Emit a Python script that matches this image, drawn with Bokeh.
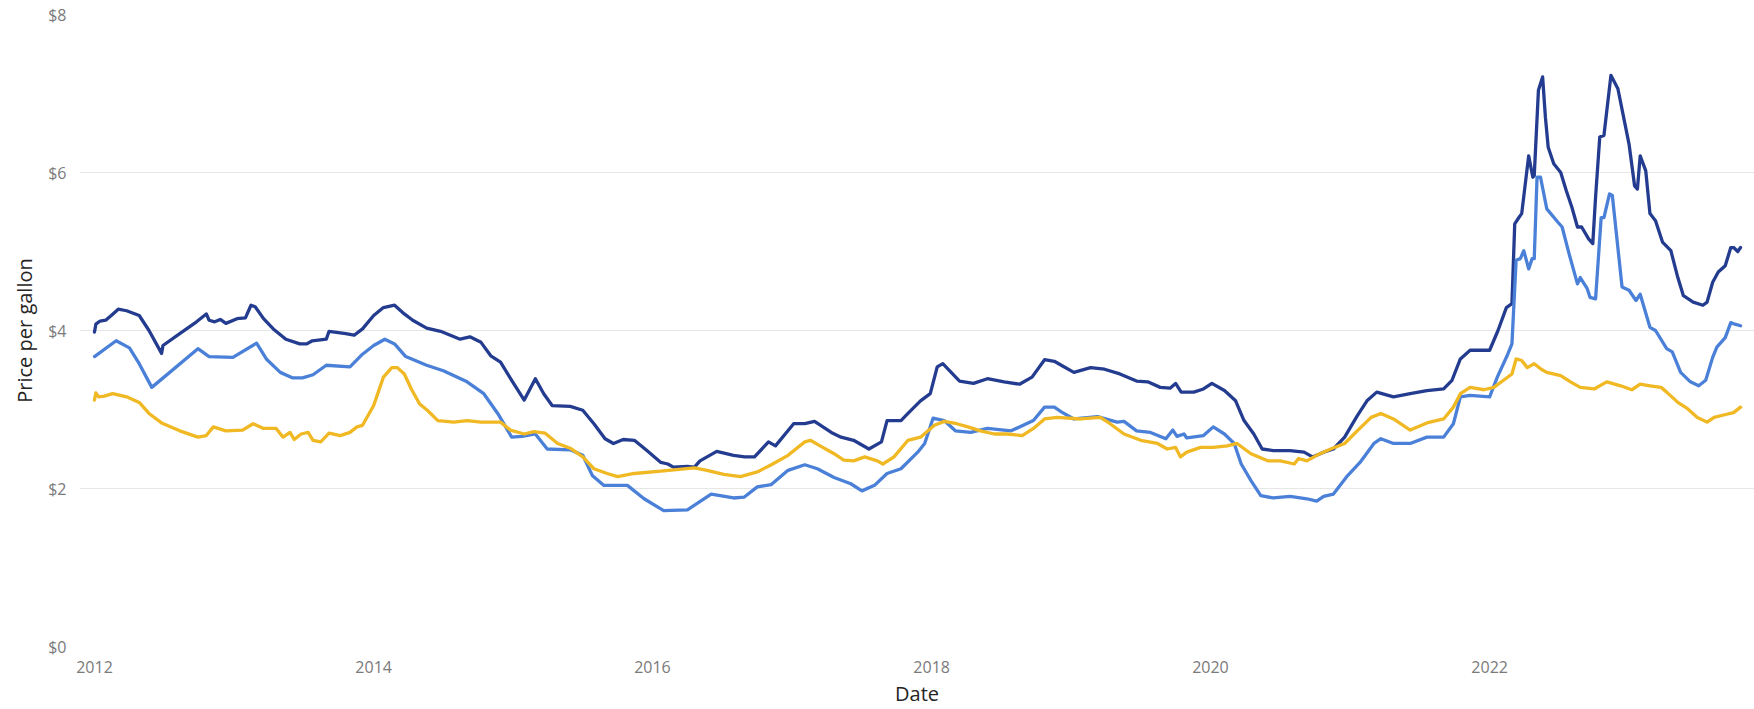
import pandas as pd
from bokeh.plotting import figure
from bokeh.models import Range1d, FixedTicker, NumeralTickFormatter, DatetimeTickFormatter, ColumnDataSource
from bokeh.embed import file_html
from bokeh.resources import INLINE

# ---- data (decimal years, $/gallon) ----
navy_t = [2012.00, 2012.01, 2012.04, 2012.08, 2012.12, 2012.17, 2012.23, 2012.32, 2012.39, 2012.48, 2012.49, 2012.61, 2012.73, 2012.80, 2012.82, 2012.86, 2012.90, 2012.94,
          2013.02, 2013.08, 2013.12, 2013.15, 2013.21, 2013.28, 2013.37, 2013.47, 2013.52, 2013.56, 2013.66, 2013.68, 2013.72, 2013.80, 2013.86, 2013.92,
          2014.00, 2014.07, 2014.15, 2014.22, 2014.28, 2014.38, 2014.48, 2014.62, 2014.69, 2014.77, 2014.84, 2014.91, 2014.99,
          2015.08, 2015.16, 2015.22, 2015.28, 2015.41, 2015.50, 2015.58, 2015.66, 2015.72, 2015.79, 2015.87, 2015.96,
          2016.06, 2016.11, 2016.15, 2016.25, 2016.30, 2016.34, 2016.46, 2016.58, 2016.66, 2016.73, 2016.83, 2016.88,
          2017.01, 2017.09, 2017.16, 2017.28, 2017.35, 2017.44, 2017.55, 2017.64, 2017.68, 2017.78, 2017.83, 2017.92, 2017.99,
          2018.04, 2018.08, 2018.14, 2018.20, 2018.30, 2018.40, 2018.52, 2018.63, 2018.72, 2018.81, 2018.88, 2018.93,
          2019.02, 2019.14, 2019.24, 2019.35, 2019.47, 2019.55, 2019.64, 2019.71, 2019.75, 2019.79, 2019.88, 2019.95,
          2020.01, 2020.10, 2020.18, 2020.24, 2020.31, 2020.37, 2020.45, 2020.57, 2020.67, 2020.73, 2020.81, 2020.88, 2020.96,
          2021.05, 2021.12, 2021.19, 2021.31, 2021.43, 2021.55, 2021.67, 2021.73, 2021.79, 2021.86, 2021.94,
          2022.00, 2022.06, 2022.12, 2022.16, 2022.18, 2022.21, 2022.23, 2022.28, 2022.31, 2022.32, 2022.35, 2022.38, 2022.40, 2022.42, 2022.46,
          2022.51, 2022.55, 2022.59, 2022.63, 2022.66, 2022.71, 2022.74, 2022.76, 2022.79, 2022.82, 2022.87, 2022.92,
          2023.00, 2023.04, 2023.06, 2023.08, 2023.12, 2023.15, 2023.19, 2023.24, 2023.30, 2023.35, 2023.39, 2023.46, 2023.53, 2023.56,
          2023.60, 2023.64, 2023.69, 2023.73, 2023.75, 2023.78, 2023.80]
navy_v = [3.98, 4.08, 4.12, 4.13, 4.19, 4.27, 4.25, 4.19, 4.00, 3.71, 3.81, 3.96, 4.11, 4.21, 4.13, 4.11, 4.14, 4.09,
          4.15, 4.16, 4.32, 4.30, 4.15, 4.02, 3.89, 3.83, 3.83, 3.87, 3.89, 3.99, 3.98, 3.96, 3.94, 4.02,
          4.19, 4.29, 4.32, 4.21, 4.13, 4.03, 3.99, 3.89, 3.92, 3.85, 3.68, 3.60, 3.37,
          3.12, 3.39, 3.20, 3.05, 3.04, 2.99, 2.82, 2.63, 2.57, 2.62, 2.61, 2.48,
          2.33, 2.31, 2.27, 2.28, 2.27, 2.35, 2.47, 2.42, 2.40, 2.40, 2.59, 2.54,
          2.82, 2.82, 2.85, 2.71, 2.65, 2.61, 2.50, 2.59, 2.86, 2.86, 2.95, 3.11, 3.20,
          3.54, 3.58, 3.47, 3.36, 3.33, 3.39, 3.35, 3.32, 3.41, 3.63, 3.61, 3.56,
          3.47, 3.53, 3.51, 3.45, 3.36, 3.35, 3.28, 3.27, 3.33, 3.22, 3.22, 3.26,
          3.33, 3.24, 3.11, 2.86, 2.69, 2.50, 2.48, 2.48, 2.46, 2.40, 2.46, 2.50, 2.65,
          2.92, 3.11, 3.22, 3.16, 3.20, 3.24, 3.26, 3.37, 3.64, 3.75, 3.75,
          3.75, 4.00, 4.29, 4.34, 5.35, 5.43, 5.48, 6.21, 5.94, 5.96, 7.04, 7.21, 6.70, 6.32, 6.11,
          6.00, 5.77, 5.56, 5.31, 5.31, 5.16, 5.10, 5.69, 6.45, 6.47, 7.23, 7.06,
          6.36, 5.83, 5.79, 6.21, 6.02, 5.48, 5.39, 5.12, 5.01, 4.67, 4.44, 4.36, 4.32, 4.36,
          4.61, 4.74, 4.82, 5.05, 5.05, 5.00, 5.05]

blue_t = [2012.00, 2012.155, 2012.25, 2012.32, 2012.41, 2012.74, 2012.82, 2012.99,
          2013.16, 2013.23, 2013.33, 2013.42, 2013.49, 2013.565, 2013.66, 2013.83, 2013.92,
          2014.00, 2014.08, 2014.15, 2014.23, 2014.38, 2014.50, 2014.67, 2014.79, 2014.89, 2014.99,
          2015.065, 2015.16, 2015.245, 2015.41, 2015.50, 2015.57, 2015.65, 2015.82, 2015.94,
          2016.08, 2016.25, 2016.42, 2016.58, 2016.655, 2016.75, 2016.85, 2016.97,
          2017.09, 2017.18, 2017.30, 2017.42, 2017.50, 2017.59, 2017.68, 2017.78, 2017.90, 2017.95,
          2018.01, 2018.09, 2018.17, 2018.28, 2018.40, 2018.57, 2018.73, 2018.81, 2018.88, 2018.93,
          2019.02, 2019.19, 2019.33, 2019.38, 2019.47, 2019.57, 2019.68, 2019.73, 2019.76, 2019.81, 2019.83, 2019.95,
          2020.02, 2020.10, 2020.17, 2020.22, 2020.29, 2020.36, 2020.45, 2020.57, 2020.69, 2020.76, 2020.81, 2020.88, 2020.98,
          2021.07, 2021.17, 2021.22, 2021.31, 2021.43, 2021.55, 2021.67, 2021.74, 2021.79, 2021.86,
          2022.00, 2022.055, 2022.13, 2022.16, 2022.19, 2022.22, 2022.245, 2022.28, 2022.305, 2022.32, 2022.34, 2022.365,
          2022.41, 2022.49, 2022.52, 2022.57, 2022.63, 2022.65, 2022.70, 2022.72, 2022.76, 2022.80, 2022.82, 2022.86, 2022.88, 2022.95,
          2023.00, 2023.05, 2023.08, 2023.15, 2023.19, 2023.27, 2023.31, 2023.37, 2023.44, 2023.50, 2023.55,
          2023.60, 2023.63, 2023.69, 2023.73, 2023.76, 2023.80]
blue_v = [3.67, 3.87, 3.78, 3.58, 3.28, 3.77, 3.67, 3.66,
          3.84, 3.64, 3.47, 3.40, 3.40, 3.44, 3.56, 3.54, 3.70,
          3.81, 3.89, 3.83, 3.67, 3.56, 3.49, 3.35, 3.20, 2.95, 2.65,
          2.66, 2.69, 2.50, 2.49, 2.42, 2.16, 2.04, 2.04, 1.87,
          1.72, 1.73, 1.93, 1.88, 1.89, 2.02, 2.05, 2.23,
          2.30, 2.25, 2.14, 2.06, 1.97, 2.04, 2.19, 2.25, 2.46, 2.57,
          2.89, 2.86, 2.73, 2.71, 2.76, 2.73, 2.86, 3.03, 3.03, 2.97,
          2.88, 2.91, 2.84, 2.85, 2.73, 2.71, 2.63, 2.74, 2.66, 2.69, 2.64, 2.67,
          2.78, 2.69, 2.57, 2.31, 2.10, 1.91, 1.88, 1.90, 1.87, 1.84, 1.90, 1.93, 2.16,
          2.33, 2.57, 2.63, 2.57, 2.57, 2.65, 2.65, 2.82, 3.16, 3.18,
          3.16, 3.41, 3.70, 3.83, 4.89, 4.91, 5.01, 4.78, 4.91, 4.91, 5.94, 5.94,
          5.54, 5.37, 5.31, 4.97, 4.59, 4.67, 4.53, 4.42, 4.40, 5.43, 5.43, 5.73, 5.71, 4.55,
          4.51, 4.38, 4.46, 4.04, 4.00, 3.77, 3.73, 3.47, 3.35, 3.30, 3.37,
          3.66, 3.79, 3.91, 4.10, 4.08, 4.06]

gold_t = [2012.00, 2012.01, 2012.03, 2012.07, 2012.13, 2012.23, 2012.32, 2012.39, 2012.48, 2012.61, 2012.74, 2012.80, 2012.85, 2012.94,
          2013.06, 2013.135, 2013.21, 2013.30, 2013.35, 2013.40, 2013.43, 2013.48, 2013.53, 2013.565, 2013.62, 2013.68, 2013.76, 2013.83, 2013.88, 2013.92,
          2014.00, 2014.07, 2014.13, 2014.17, 2014.22, 2014.27, 2014.33, 2014.385, 2014.46, 2014.575, 2014.67, 2014.77, 2014.91, 2014.98,
          2015.08, 2015.15, 2015.23, 2015.32, 2015.41, 2015.50, 2015.58, 2015.675, 2015.75, 2015.87,
          2016.06, 2016.30, 2016.39, 2016.51, 2016.63, 2016.75, 2016.85, 2016.97,
          2017.09, 2017.13, 2017.20, 2017.30, 2017.37, 2017.44, 2017.52, 2017.61, 2017.65, 2017.73, 2017.83, 2017.92,
          2018.02, 2018.09, 2018.18, 2018.26, 2018.35, 2018.45, 2018.54, 2018.65, 2018.73, 2018.81, 2018.90,
          2019.07, 2019.21, 2019.28, 2019.38, 2019.50, 2019.62, 2019.69, 2019.75, 2019.785, 2019.83, 2019.93,
          2020.02, 2020.12, 2020.19, 2020.29, 2020.41, 2020.50, 2020.60, 2020.63, 2020.69, 2020.76, 2020.86, 2020.96,
          2021.05, 2021.15, 2021.22, 2021.31, 2021.43, 2021.55, 2021.67, 2021.74, 2021.79, 2021.86, 2021.96,
          2022.03, 2022.10, 2022.16, 2022.19, 2022.23, 2022.27, 2022.32, 2022.37, 2022.41, 2022.51, 2022.58, 2022.65, 2022.75, 2022.84, 2022.94,
          2023.02, 2023.08, 2023.15, 2023.23, 2023.27, 2023.35, 2023.42, 2023.49, 2023.56, 2023.61, 2023.70, 2023.75, 2023.80]
gold_v = [3.12, 3.21, 3.16, 3.17, 3.20, 3.16, 3.09, 2.95, 2.83, 2.73, 2.65, 2.67, 2.78, 2.73,
          2.74, 2.82, 2.76, 2.76, 2.65, 2.71, 2.62, 2.69, 2.71, 2.61, 2.59, 2.70, 2.67, 2.71, 2.78, 2.80,
          3.05, 3.41, 3.53, 3.53, 3.45, 3.26, 3.07, 2.99, 2.86, 2.84, 2.86, 2.84, 2.84, 2.74,
          2.69, 2.72, 2.70, 2.57, 2.51, 2.40, 2.25, 2.19, 2.15, 2.19,
          2.22, 2.26, 2.23, 2.18, 2.15, 2.21, 2.30, 2.42,
          2.59, 2.61, 2.54, 2.44, 2.36, 2.35, 2.40, 2.35, 2.31, 2.40, 2.61, 2.65,
          2.80, 2.85, 2.82, 2.78, 2.73, 2.69, 2.69, 2.67, 2.76, 2.88, 2.90,
          2.88, 2.90, 2.82, 2.69, 2.61, 2.57, 2.50, 2.52, 2.40, 2.46, 2.52,
          2.52, 2.54, 2.57, 2.44, 2.35, 2.35, 2.31, 2.38, 2.35, 2.42, 2.50, 2.57,
          2.73, 2.90, 2.95, 2.88, 2.74, 2.83, 2.88, 3.03, 3.20, 3.28, 3.25,
          3.28, 3.37, 3.45, 3.64, 3.62, 3.53, 3.58, 3.51, 3.47, 3.43, 3.35, 3.28, 3.26, 3.35, 3.30,
          3.25, 3.32, 3.30, 3.28, 3.22, 3.09, 3.01, 2.90, 2.84, 2.90, 2.94, 2.96, 3.03]

y_ticks = [0, 2, 4, 6, 8]
x_tick_years = [2012, 2014, 2016, 2018, 2020, 2022]


def to_dt(y):
    yr = int(y)
    start = pd.Timestamp(year=yr, month=1, day=1)
    days = (pd.Timestamp(year=yr + 1, month=1, day=1) - start).days
    return start + pd.Timedelta(days=(y - yr) * days)


def ms(ts):
    return ts.value // 10**6


FONT = "Open Sans"

p = figure(width=1754, height=709, output_backend="svg", toolbar_location=None,
           x_axis_type="datetime",
           x_range=Range1d(to_dt(2011.8925), to_dt(2023.90)),
           y_range=Range1d(0, 8),
           min_border_left=79, min_border_right=0, min_border_top=14, min_border_bottom=60)

p.background_fill_color = "white"
p.border_fill_color = "white"
p.outline_line_color = None

series = [(navy_t, navy_v, "#243C8F"), (blue_t, blue_v, "#4A80D8"), (gold_t, gold_v, "#F0B823")]
for t, v, c in series:
    src = ColumnDataSource(dict(x=[to_dt(a) for a in t], y=v))
    p.line("x", "y", source=src, line_color=c, line_width=3.3, line_join="round", line_cap="round")

p.xgrid.grid_line_color = None
p.ygrid.grid_line_color = "#E6E6E6"
p.ygrid.grid_line_width = 1

p.xaxis.ticker = FixedTicker(ticks=[ms(pd.Timestamp(year=y, month=1, day=1)) for y in x_tick_years])
p.xaxis.formatter = DatetimeTickFormatter(years="%Y", months="%Y", days="%Y", hours="%Y", hourmin="%Y",
                                          minutes="%Y", minsec="%Y", seconds="%Y", milliseconds="%Y",
                                          microseconds="%Y")
p.yaxis.ticker = FixedTicker(ticks=y_ticks)
p.yaxis.formatter = NumeralTickFormatter(format="$0")

for ax in (p.xaxis[0], p.yaxis[0]):
    ax.axis_line_color = None
    ax.major_tick_line_color = None
    ax.minor_tick_line_color = None
    ax.major_tick_out = 0
    ax.major_tick_in = 0
    ax.minor_tick_out = 0
    ax.major_label_text_font = FONT
    ax.major_label_text_font_size = "16px"
    ax.major_label_text_color = "#7A7A7A"
    ax.axis_label_text_font = FONT
    ax.axis_label_text_font_size = "20px"
    ax.axis_label_text_font_style = "normal"
    ax.axis_label_text_color = "#252423"

p.xaxis.axis_label = "Date"
p.xaxis.major_label_standoff = 14
p.xaxis.axis_label_standoff = 4
p.yaxis.axis_label = "Price per gallon"
p.yaxis.major_label_standoff = 13
p.yaxis.axis_label_standoff = 7

open("out.html", "w").write(file_html(p, INLINE))
